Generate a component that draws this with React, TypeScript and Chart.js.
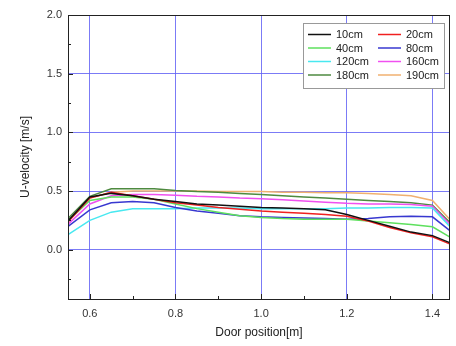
import React, { useEffect, useRef } from "react";
import { Chart, registerables } from "chart.js";

Chart.register(...registerables);

const xPositions = [0.55, 0.6, 0.65, 0.7, 0.75, 0.8, 0.85, 0.9, 0.95, 1.0, 1.05, 1.1, 1.15, 1.2, 1.25, 1.3, 1.35, 1.4, 1.44];

const s10 = [0.25, 0.45, 0.48, 0.46, 0.43, 0.41, 0.39, 0.38, 0.37, 0.36, 0.355, 0.35, 0.34, 0.30, 0.25, 0.20, 0.15, 0.12, 0.06];
const s20 = [0.24, 0.44, 0.49, 0.46, 0.43, 0.40, 0.38, 0.36, 0.345, 0.33, 0.32, 0.31, 0.30, 0.285, 0.245, 0.19, 0.145, 0.11, 0.05];
const s40 = [0.25, 0.42, 0.45, 0.45, 0.43, 0.39, 0.35, 0.32, 0.29, 0.275, 0.265, 0.26, 0.26, 0.26, 0.245, 0.23, 0.215, 0.195, 0.11];
const s80 = [0.20, 0.34, 0.40, 0.41, 0.40, 0.36, 0.33, 0.31, 0.29, 0.28, 0.275, 0.27, 0.265, 0.26, 0.265, 0.28, 0.285, 0.28, 0.165];
const s120 = [0.13, 0.25, 0.32, 0.35, 0.35, 0.35, 0.355, 0.355, 0.355, 0.35, 0.35, 0.35, 0.35, 0.355, 0.355, 0.36, 0.36, 0.355, 0.20];
const s160 = [0.22, 0.39, 0.46, 0.47, 0.47, 0.465, 0.455, 0.45, 0.44, 0.435, 0.425, 0.415, 0.405, 0.395, 0.39, 0.39, 0.385, 0.37, 0.22];
const s180 = [0.27, 0.455, 0.52, 0.52, 0.52, 0.505, 0.495, 0.49, 0.48, 0.47, 0.46, 0.45, 0.44, 0.43, 0.42, 0.41, 0.40, 0.38, 0.235];
const s190 = [0.25, 0.44, 0.49, 0.50, 0.50, 0.50, 0.50, 0.495, 0.495, 0.495, 0.49, 0.49, 0.485, 0.485, 0.48, 0.47, 0.46, 0.42, 0.26];

const seriesLabels = ["10cm", "20cm", "40cm", "80cm", "120cm", "160cm", "180cm", "190cm"];
const seriesValues = [s10, s20, s40, s80, s120, s160, s180, s190];
const seriesColors = ["#111111", "#f02020", "#5ee05e", "#3838d0", "#48e8f0", "#f050f0", "#4e8a40", "#f0b070"];

const xMajorTicks = [0.6, 0.8, 1.0, 1.2, 1.4];
const xMinorTicks = [0.7, 0.9, 1.1, 1.3];
const yMajorTicks = [0.0, 0.5, 1.0, 1.5, 2.0];
const yMinorTicks = [-0.25, 0.25, 0.75, 1.25, 1.75];

const X_MIN = 0.549;
const X_MAX = 1.441;
const Y_MIN = -0.42;
const Y_MAX = 2.0;

const framePlugin = {
  id: "frame",
  afterDatasetsDraw(chart: any) {
    const { ctx, chartArea } = chart;
    const xs = chart.scales.x;
    const ys = chart.scales.y;
    ctx.save();
    ctx.strokeStyle = "#222";
    ctx.lineWidth = 1;
    ctx.strokeRect(chartArea.left + 0.5, chartArea.top + 0.5, chartArea.right - chartArea.left - 1, chartArea.bottom - chartArea.top);
    ctx.beginPath();
    const drawX = (v: number, len: number) => {
      const px = Math.round(xs.getPixelForValue(v)) + 0.5;
      ctx.moveTo(px, chartArea.bottom);
      ctx.lineTo(px, chartArea.bottom - len);
    };
    const drawY = (v: number, len: number) => {
      const py = Math.round(ys.getPixelForValue(v)) + 0.5;
      ctx.moveTo(chartArea.left, py);
      ctx.lineTo(chartArea.left + len, py);
    };
    xMajorTicks.forEach((v) => drawX(v, 5));
    xMinorTicks.forEach((v) => drawX(v, 3));
    yMajorTicks.forEach((v) => drawY(v, 5));
    yMinorTicks.forEach((v) => drawY(v, 3));
    ctx.stroke();

    // legend
    const lx = 303, ly = 23, lw = 141, lh = 65;
    ctx.fillStyle = "#ffffff";
    ctx.fillRect(lx, ly, lw, lh);
    ctx.strokeStyle = "#999";
    ctx.strokeRect(lx + 0.5, ly + 0.5, lw, lh);
    ctx.font = "11px 'Liberation Sans', Arial, sans-serif";
    ctx.textBaseline = "middle";
    ctx.textAlign = "left";
    seriesLabels.forEach((lab, i) => {
      const col = i % 2;
      const row = Math.floor(i / 2);
      const x0 = col === 0 ? 308 : 378;
      const y0 = 34.5 + row * 13.5;
      ctx.strokeStyle = seriesColors[i];
      ctx.lineWidth = 1.5;
      ctx.beginPath();
      ctx.moveTo(x0, y0);
      ctx.lineTo(x0 + 23, y0);
      ctx.stroke();
      ctx.fillStyle = "#222";
      ctx.fillText(lab, x0 + 28, y0 + 0.5);
    });
    ctx.restore();
  },
};

export default function App() {
  const ref = useRef<HTMLCanvasElement>(null);
  useEffect(() => {
    document.body.style.margin = "0";
    const canvas = ref.current!;
    const chart = new Chart(canvas, {
      type: "line",
      data: {
        datasets: seriesLabels.map((lab, i) => ({
          label: lab,
          data: xPositions.map((x, j) => ({ x, y: seriesValues[i][j] })),
          borderColor: seriesColors[i],
          backgroundColor: seriesColors[i],
          borderWidth: 1.5,
          pointRadius: 0,
          tension: 0,
          fill: false,
        })),
      },
      options: {
        animation: false,
        responsive: false,
        maintainAspectRatio: false,
        layout: { padding: { left: 0, top: 15, right: 6, bottom: 0 } },
        plugins: { legend: { display: false }, tooltip: { enabled: false } },
        scales: {
          x: {
            type: "linear",
            min: X_MIN,
            max: X_MAX,
            afterBuildTicks: (s: any) => { s.ticks = xMajorTicks.map((v) => ({ value: v })); },
            afterFit: (s: any) => { s.height = 47; },
            border: { display: false },
            grid: { color: "rgba(100,100,245,0.85)", lineWidth: 1, drawTicks: false },
            ticks: {
              padding: 8,
              color: "#333",
              font: { family: "'Liberation Sans', Arial, sans-serif", size: 11 },
              callback: (v: any) => Number(v).toFixed(1),
              maxRotation: 0,
            },
            title: {
              display: true,
              text: "Door position[m]",
              color: "#222",
              font: { family: "'Liberation Sans', Arial, sans-serif", size: 12 },
              padding: { top: 6, bottom: 6 },
            },
          },
          y: {
            type: "linear",
            min: Y_MIN,
            max: Y_MAX,
            afterBuildTicks: (s: any) => { s.ticks = yMajorTicks.map((v) => ({ value: v })); },
            afterFit: (s: any) => { s.width = 68; },
            border: { display: false },
            grid: { color: "rgba(100,100,245,0.85)", lineWidth: 1, drawTicks: false },
            ticks: {
              padding: 6,
              color: "#333",
              font: { family: "'Liberation Sans', Arial, sans-serif", size: 11 },
              callback: (v: any) => Number(v).toFixed(1),
            },
            title: {
              display: true,
              text: "U-velocity [m/s]",
              color: "#222",
              font: { family: "'Liberation Sans', Arial, sans-serif", size: 12 },
              padding: { top: 18, bottom: 4 },
            },
          },
        },
      },
      plugins: [framePlugin],
    });
    return () => chart.destroy();
  }, []);
  return <canvas ref={ref} width={456} height={346} style={{ display: "block" }} />;
}
